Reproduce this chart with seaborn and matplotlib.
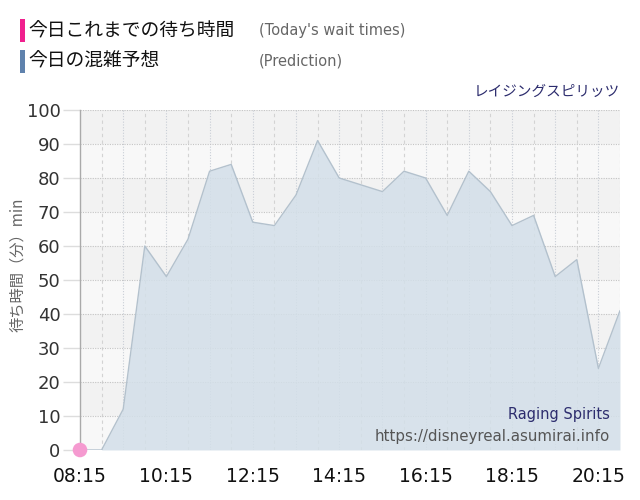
import matplotlib
matplotlib.use("Agg")
import matplotlib.pyplot as plt
import seaborn as sns
import pandas as pd
from matplotlib.patches import Rectangle

# ---- data ----
pred_times = ["08:15", "08:45", "09:15", "09:45", "10:15", "10:45", "11:15", "11:45",
              "12:15", "12:45", "13:15", "13:45", "14:15", "14:45", "15:15", "15:45",
              "16:15", "16:45", "17:15", "17:45", "18:15", "18:45", "19:15", "19:45",
              "20:15", "20:45"]
pred_values = [0, 0, 12, 60, 51, 62, 82, 84, 67, 66, 75, 91, 80, 78, 76, 82,
               80, 69, 82, 76, 66, 69, 51, 56, 24, 41]
today_times = ["08:15"]
today_values = [0]
x_tick_labels = ["08:15", "10:15", "12:15", "14:15", "16:15", "18:15", "20:15"]
y_ticks = [0, 10, 20, 30, 40, 50, 60, 70, 80, 90, 100]


def to_min(s):
    h, m = s.split(":")
    return int(h) * 60 + int(m)


pred = pd.DataFrame({"t": [to_min(s) for s in pred_times], "v": pred_values})
today = pd.DataFrame({"t": [to_min(s) for s in today_times], "v": today_values})

sns.set_theme(style="white")
plt.rcParams["font.family"] = ["DejaVu Sans", "Noto Sans CJK JP"]
JP = ["Noto Sans CJK JP", "DejaVu Sans"]

fig = plt.figure(figsize=(6.4, 5.0), dpi=100)
ax = fig.add_axes([80 / 640, 50 / 500, 540 / 640, 340 / 500])

xmin, xmax = to_min("08:15"), to_min("20:45")
ax.set_xlim(xmin, xmax)
ax.set_ylim(0, 100)

# alternating bands
for i in range(10):
    ax.axhspan(i * 10, i * 10 + 10, color="#f8f8f8" if i % 2 == 0 else "#f2f2f2",
               zorder=0, lw=0)

# vertical grid lines every 30 minutes
t = xmin + 30
while t <= xmax:
    if (t - 15) % 60 == 0:
        ax.axvline(t, color="#c9ced6", lw=0.8, ls=(0, (1, 1.5)), zorder=1)
    else:
        ax.axvline(t, color="#d3d3d3", lw=0.8, ls=(0, (3, 3)), zorder=1)
    t += 30
# horizontal grid
for yv in y_ticks[1:]:
    ax.axhline(yv, color="#c4c4c4", lw=0.8, ls=(0, (1, 1.2)), zorder=1)

# prediction area
ax.fill_between(pred["t"], pred["v"], 0, color="#d3dfe9", alpha=0.85, lw=0, zorder=2)
sns.lineplot(data=pred, x="t", y="v", ax=ax, color="#b3c1cd", lw=1.0, zorder=3)

# today's points
sns.scatterplot(data=today, x="t", y="v", ax=ax, color="#f59ad0", s=110,
                edgecolor="none", zorder=5, clip_on=False)

ax.set_xlabel("")
ax.set_ylabel("")
ax.set_xticks([to_min(s) for s in x_tick_labels])
ax.set_xticklabels(x_tick_labels, fontsize=13.5, color="#111111")
ax.set_yticks(y_ticks)
ax.set_yticklabels([str(v) for v in y_ticks], fontsize=13, color="#333333")
ax.tick_params(axis="y", length=12, color="#dddddd", width=1, pad=2, left=True)
ax.tick_params(axis="x", length=0, pad=12)
for side in ["top", "right", "bottom"]:
    ax.spines[side].set_visible(False)
ax.spines["left"].set_color("#aaaaaa")
ax.spines["left"].set_linewidth(1)

# y label
fig.text(18 / 640, 1 - 265 / 500, "待ち時間（分）min", rotation=90, ha="center",
         va="center", fontsize=11, color="#666666", family=JP)

# legend
fig.patches.append(Rectangle((20 / 640, 1 - 42 / 500), 5 / 640, 23 / 500,
                             transform=fig.transFigure, color="#f0208e", lw=0))
fig.patches.append(Rectangle((20 / 640, 1 - 73 / 500), 5 / 640, 23 / 500,
                             transform=fig.transFigure, color="#5f82ad", lw=0))
fig.text(28 / 640, 1 - 31 / 500, "今日これまでの待ち時間", ha="left", va="center",
         fontsize=13.5, color="#111111", family=JP)
fig.text(28 / 640, 1 - 61 / 500, "今日の混雑予想", ha="left", va="center",
         fontsize=13.5, color="#111111", family=JP)
fig.text(259 / 640, 1 - 31 / 500, "(Today's wait times)", ha="left", va="center",
         fontsize=10.5, color="#666666")
fig.text(259 / 640, 1 - 61 / 500, "(Prediction)", ha="left", va="center",
         fontsize=10.5, color="#666666")

# titles / credits
fig.text(620 / 640, 1 - 92 / 500, "レイジングスピリッツ", ha="right", va="center",
         fontsize=10.5, color="#2d2d6e", family=JP)
fig.text(610 / 640, 1 - 414 / 500, "Raging Spirits", ha="right", va="center",
         fontsize=10.5, color="#2d2d6e")
fig.text(610 / 640, 1 - 436 / 500, "https://disneyreal.asumirai.info", ha="right",
         va="center", fontsize=10.8, color="#555555")

fig.savefig("out.png", dpi=100, facecolor="white")
